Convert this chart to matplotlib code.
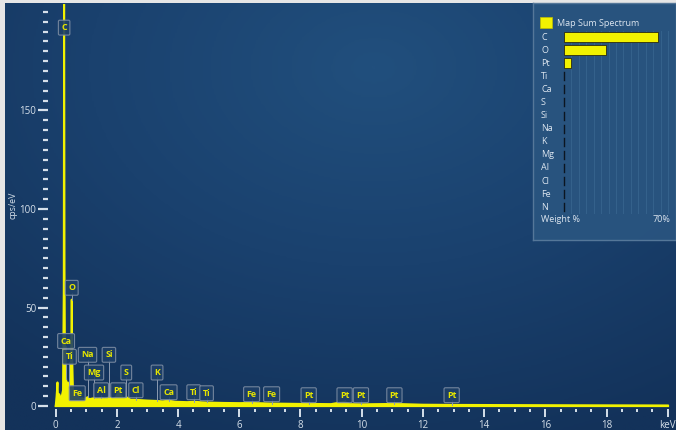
import numpy as np
import matplotlib
matplotlib.use("Agg")
import matplotlib.pyplot as plt
from matplotlib.colors import LinearSegmentedColormap

plt.rcParams['font.family'] = ['Open Sans', 'DejaVu Sans']

# Spectrum (energy in keV, counts in cps/eV)
energy = [0.00, 0.03, 0.06, 0.08, 0.12, 0.16, 0.20, 0.24, 0.265, 0.277, 0.29, 0.31,
          0.34, 0.37, 0.40, 0.45, 0.49, 0.51, 0.525, 0.54, 0.57, 0.62, 0.70, 0.75,
          0.85, 0.95, 1.04, 1.10, 1.25, 1.35, 1.49, 1.60, 1.74, 1.85, 1.95, 2.05,
          2.12, 2.20, 2.31, 2.45, 2.62, 2.80, 3.00, 3.31, 3.50, 3.69, 3.90, 4.30,
          4.51, 4.80, 4.93, 5.50, 6.00, 6.40, 7.00, 8.00, 8.27, 9.00, 9.44, 9.60,
          10.0, 11.07, 12.0, 13.0, 15.0, 17.0, 20.0]
counts = [0.0, 5.0, 12.0, 4.0, 6.0, 4.0, 5.0, 8.0, 60.0, 230.0, 70.0, 10.0,
          14.0, 8.0, 12.0, 9.0, 10.0, 30.0, 54.0, 25.0, 6.0, 5.0, 6.0, 4.0,
          4.0, 3.5, 4.5, 3.5, 4.0, 3.5, 4.0, 3.5, 4.5, 3.5, 4.0, 7.0,
          6.0, 4.0, 4.5, 3.2, 3.2, 3.0, 2.8, 2.6, 2.4, 2.8, 2.2, 2.0,
          2.2, 1.9, 1.8, 1.6, 1.5, 1.6, 1.3, 1.1, 1.1, 1.0, 2.2, 1.0,
          0.9, 1.1, 0.7, 0.6, 0.5, 0.4, 0.3]

# Peak labels: element, line energy (keV), label height (cps/eV)
peak_names = ['C', 'O', 'Ca', 'Ti', 'Na', 'Si', 'Mg', 'S', 'K', 'Fe', 'Al', 'Pt',
              'Cl', 'Ca', 'Ti', 'Ti', 'Fe', 'Fe', 'Pt', 'Pt', 'Pt', 'Pt', 'Pt']
peak_energy = [0.277, 0.525, 0.341, 0.452, 1.041, 1.740, 1.254, 2.307, 3.313, 0.705,
               1.486, 2.048, 2.621, 3.691, 4.510, 4.931, 6.403, 7.057, 8.267, 9.441,
               9.975, 11.069, 12.939]
label_height = [192, 60, 33, 25, 26, 26, 17, 17, 17, 6.5, 8, 8,
                8, 7, 7, 6.5, 6, 6, 5.5, 5.5, 5.5, 5.5, 5.5]

# Weight % panel
wt_elements = ['C', 'O', 'Pt', 'Ti', 'Ca', 'S', 'Si', 'Na', 'K', 'Mg', 'Al', 'Cl', 'Fe', 'N']
wt_values = [63, 28, 5, 0, 0, 0, 0, 0, 0, 0, 0, 0, 0, 0]

x_ticks = [0, 2, 4, 6, 8, 10, 12, 14, 16, 18, 20]
x_ticklabels = ['0', '2', '4', '6', '8', '10', '12', '14', '16', '18', 'keV']
y_ticks = [0, 50, 100, 150]

W, H = 676, 430
fig = plt.figure(figsize=(W / 100, H / 100), dpi=100, facecolor='#e6e6e6')

# Gradient backdrop
bg = fig.add_axes([5 / W, 0, 1 - 5 / W, 1 - 3 / H])
bg.set_axis_off()
yy, xx = np.mgrid[0:1:300j, 0:1:400j]
r = np.sqrt(((xx - 0.55) / 1.0) ** 2 + ((yy - 0.15) / 1.1) ** 2)
cmap = LinearSegmentedColormap.from_list('bgblue', ['#214f7d', '#1a416e', '#13325a'])
bg.imshow(np.clip(r / 0.85, 0, 1), cmap=cmap, aspect='auto', extent=[0, 1, 1, 0],
          interpolation='bilinear')
bg.set_xlim(0, 1)
bg.set_ylim(1, 0)

# Spectrum axes
x0, x1 = -0.25, 20.25
y0, y1 = -1.5, 204
ax = fig.add_axes([48 / W, (H - 409) / H, (675.4 - 48) / W, 405 / H])
ax.patch.set_alpha(0)
ax.set_xlim(x0, x1)
ax.set_ylim(y0, y1)
for s in ax.spines.values():
    s.set_visible(False)

ax.fill_between(energy, 0, counts, color='#f2f200', lw=0, zorder=2)
ax.plot(energy, counts, color='#f2f200', lw=1.4, zorder=3)
ax.plot([0, 20], [0, 0], color='#f2f200', lw=1.6, zorder=3)

tick_col = '#d6e0ea'
ax.set_xticks(x_ticks)
ax.set_xticklabels(x_ticklabels)
ax.set_xticks(np.arange(0, 20.01, 0.5), minor=True)
ax.set_yticks(y_ticks)
ax.set_yticks(np.arange(0, 204, 5), minor=True)
ax.tick_params(axis='x', which='major', direction='out', length=5.5, width=1.4,
               color=tick_col, labelcolor=tick_col, labelsize=7, pad=2.5)
ax.tick_params(axis='x', which='minor', direction='out', length=2.2, width=1.4,
               color=tick_col)
ax.tick_params(axis='y', which='major', direction='out', length=7, width=1.6,
               color=tick_col, labelcolor=tick_col, labelsize=7, pad=1.5)
ax.tick_params(axis='y', which='minor', direction='out', length=3.5, width=1.6,
               color=tick_col)
ax.set_ylabel('cps/eV', color=tick_col, fontsize=6.3)
# axis title sits left of the tick labels, slightly above the 100 mark
ax.yaxis.set_label_coords(-30 / 627.4, 1 - (205 - 4) / 405, transform=ax.transAxes)

# Peak markers
for name, e, h in zip(peak_names, peak_energy, label_height):
    top = float(np.interp(e, energy, counts))
    if top < h - 2:
        ax.plot([e, e], [top, h - 2.5], color='#8c9cb2', lw=0.7, zorder=4)
    ax.text(e, h, name, ha='center', va='center', fontsize=6.4, color='#e6e600',
            fontweight='bold', zorder=6,
            bbox=dict(boxstyle='round,pad=0.33,rounding_size=0.15',
                      facecolor='#1e4068', edgecolor='#7d8da3', lw=0.8, alpha=0.9))

# Weight % panel
pw, ph = 143, 237
pan = fig.add_axes([533 / W, (H - 240) / H, pw / W, ph / H])
pan.set_xlim(0, pw)
pan.set_ylim(ph, 0)
pan.set_facecolor('#2a5580')
pan.patch.set_alpha(0.92)
for s in pan.spines.values():
    s.set_color('#557799')
    s.set_linewidth(1.0)
pan.set_xticks([])
pan.set_yticks([])

bar_x0, bar_len, full = 31, 104, 70
row_y = 34 + np.arange(len(wt_elements)) * 13.1
for k in range(1, 15):
    xg = bar_x0 + bar_len * k * 5 / full
    pan.plot([xg, xg], [row_y[0] - 6, row_y[-1] + 6], color='#34618b', lw=0.8, zorder=1)

pan.add_patch(plt.Rectangle((7, 14), 12, 11, facecolor='#f2f200', edgecolor='#c0c000', lw=0.5))
pan.text(24, 20, 'Map Sum Spectrum', fontsize=6.5, color='#dde6f0', va='center')
for name, v, y in zip(wt_elements, wt_values, row_y):
    pan.text(8, y, name, fontsize=6.5, color='#dde6f0', va='center')
    if v > 0:
        pan.add_patch(plt.Rectangle((bar_x0, y - 5), bar_len * v / full, 10,
                                    facecolor='#f2f200', edgecolor='#2a2a10', lw=0.6, zorder=3))
    else:
        pan.plot([bar_x0, bar_x0], [y - 4, y + 4], color='#0b1520', lw=1.0, zorder=3)
pan.text(8, 217, 'Weight %', fontsize=6.5, color='#dde6f0', va='center')
pan.text(137, 217, f'{full}%', fontsize=6.5, color='#dde6f0', va='center', ha='right')

fig.savefig('out.png', dpi=100, facecolor=fig.get_facecolor())
